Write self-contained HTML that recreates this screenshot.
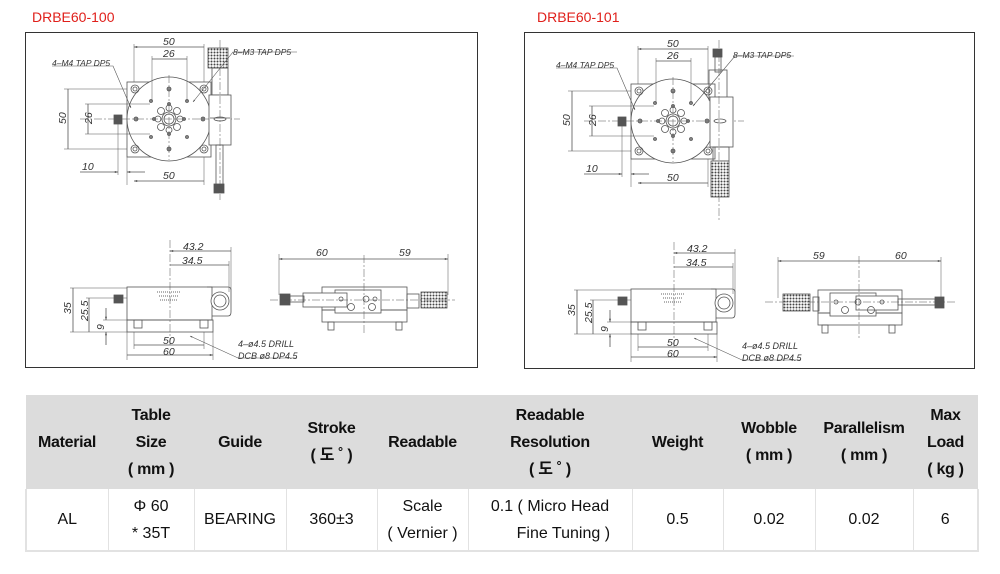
<!DOCTYPE html>
<html><head><meta charset="utf-8"><style>
body{margin:0;width:1000px;height:574px;background:#fff;position:relative;overflow:hidden;font-family:"Liberation Sans","Noto Sans CJK KR",sans-serif}
svg{position:absolute;left:0;top:0}
table{position:absolute;left:25px;top:395px;border-collapse:collapse;table-layout:fixed;width:952px}
td{text-align:center;vertical-align:middle;padding:0;font-size:16px;line-height:27px;color:#111}
tr.h td{background:#dcdcdc;font-weight:bold;height:94px;letter-spacing:-0.3px}
tr.b td{height:61px;border-left:1px solid #e2e2e2;border-bottom:2px solid #e2e2e2}
tr.b td:first-child{border-left:2px solid #e2e2e2}
tr.b td:last-child{border-right:2px solid #e2e2e2}
</style></head><body>
<svg width="1000" height="390" viewBox="0 0 1000 390" font-family="Liberation Sans, sans-serif">
<defs>
<marker id="a" viewBox="0 0 10 10" refX="10" refY="5" markerWidth="6" markerHeight="4" orient="auto-start-reverse"><path d="M0,2L10,5L0,8z" fill="#444"/></marker>
<pattern id="kn" width="3" height="3" patternUnits="userSpaceOnUse"><rect width="3" height="3" fill="#fff"/><circle cx="1.5" cy="1.5" r="1" fill="#444"/></pattern>
<g id="common" stroke="#555" stroke-width="0.8" fill="none">
 <!-- plate -->
 <rect x="127" y="82" width="84" height="75"/>
 <circle cx="169" cy="119" r="42" fill="#fff"/>
 <g>
  <circle cx="135" cy="89" r="4"/><circle cx="135" cy="89" r="2"/>
  <circle cx="204" cy="89" r="4"/><circle cx="204" cy="89" r="2"/>
  <circle cx="135" cy="149" r="4"/><circle cx="135" cy="149" r="2"/>
  <circle cx="204" cy="149" r="4"/><circle cx="204" cy="149" r="2"/>
 </g>
 <g fill="#888">
  <circle cx="169" cy="89" r="2"/><circle cx="169" cy="149" r="2"/><circle cx="136" cy="119" r="2"/><circle cx="203" cy="119" r="2"/>
  <circle cx="151" cy="101" r="1.5"/><circle cx="187" cy="101" r="1.5"/><circle cx="151" cy="137" r="1.5"/><circle cx="187" cy="137" r="1.5"/>
  <circle cx="169" cy="104" r="1.5"/><circle cx="169" cy="134" r="1.5"/><circle cx="154" cy="119" r="1.5"/><circle cx="184" cy="119" r="1.5"/>
 </g>
 <circle cx="169" cy="119" r="7"/><circle cx="169" cy="119" r="5"/>
 <circle cx="161" cy="111" r="3.5"/><circle cx="177" cy="111" r="3.5"/><circle cx="161" cy="127" r="3.5"/><circle cx="177" cy="127" r="3.5"/>
 <circle cx="158" cy="119" r="3"/><circle cx="180" cy="119" r="3"/><circle cx="169" cy="108" r="3"/><circle cx="169" cy="130" r="3"/>
 <path d="M80 119H240M169 75V160" stroke-dasharray="8 2 2 2" stroke-width="0.5"/>
 <rect x="114" y="115" width="8" height="9" fill="#555"/>
 <!-- top view dims -->
 <path d="M134 82V44M204 82V44M152 101V56M187 101V56M127 89H64M127 149H64M150 104H85M150 134H85M118 124V175M127 157V185M204 157V185" stroke-width="0.5"/>
 <path d="M134 47H204M152 59H187M68 89V149M88 104V134M204 181H134" marker-start="url(#a)" marker-end="url(#a)"/>
 <path d="M80 172H118" marker-end="url(#a)"/><path d="M145 172H127" marker-end="url(#a)"/>
 <path d="M52 66H113L131 108" stroke-width="0.6" marker-end="url(#a)"/>
 <!-- side view -->
 <rect x="127" y="287" width="85" height="33"/>
 <rect x="127" y="320" width="86" height="12"/>
 <path d="M207 287H228Q231 287 231 290V312Q231 316 228 316H212" />
 <circle cx="220" cy="301" r="9" fill="#fff"/><circle cx="220" cy="301" r="6"/>
 <rect x="114" y="295" width="9" height="8" fill="#555"/>
 <rect x="134" y="320" width="8" height="8"/><rect x="200" y="320" width="8" height="8"/>
 <path d="M157 292h24M159 296h20M160 300h18" stroke="#333" stroke-dasharray="1 1"/>
 <path d="M170 240V345" stroke-dasharray="8 2 2 2" stroke-width="0.5"/>
 <path d="M231 247V290M229 261V292M127 288H70M127 298H86M127 320H103M127 332H70M127 332V360M213 332V360M134 332V349M204 332V349" stroke-width="0.5"/>
 <path d="M170 251H231M170 265H229M73 288V332M89 298V332M134 345H204M127 355H213" marker-start="url(#a)" marker-end="url(#a)"/>
 <path d="M106 308V320" marker-end="url(#a)"/><path d="M106 345V332" marker-end="url(#a)"/>
 <path d="M297 358H238L190 336" stroke-width="0.6" marker-end="url(#a)"/>
</g>
<g id="commonText" font-size="10.5" font-style="italic" fill="#333">
 <text x="163" y="45">50</text><text x="163" y="57">26</text>
 <text x="90" y="94" transform="rotate(-90 62 119)" x2="0"></text>
 <text x="57" y="123" transform="rotate(-90 62 119)">50</text>
 <text x="83" y="123" transform="rotate(-90 88 119)">26</text>
 <text x="82" y="170">10</text><text x="163" y="179">50</text>
 <text x="52" y="66" font-size="8.5">4–M4 TAP DP5</text>
 <text x="183" y="250">43.2</text><text x="182" y="264">34.5</text>
 <text x="63" y="314" transform="rotate(-90 67 310)">35</text>
 <text x="78" y="319" transform="rotate(-90 84 315)">25.5</text>
 <text x="98" y="330" transform="rotate(-90 101 327)">9</text>
 <text x="163" y="344">50</text><text x="163" y="355">60</text>
 <text x="238" y="347" font-size="9">4–ø4.5 DRILL</text>
 <text x="238" y="359" font-size="9">DCB ø8 DP4.5</text>
</g>
</defs>

<text x="32" y="22" font-size="14" fill="#e0201b">DRBE60-100</text>
<text x="537" y="22" font-size="14" fill="#e0201b">DRBE60-101</text>
<rect x="25.5" y="32.5" width="452" height="335" fill="none" stroke="#333" stroke-width="1"/>
<rect x="524.5" y="32.5" width="450" height="336" fill="none" stroke="#333" stroke-width="1"/>

<!-- LEFT -->
<use href="#common"/><use href="#commonText"/>
<g stroke="#555" stroke-width="0.8" fill="none">
 <rect x="208" y="48" width="20" height="20" fill="url(#kn)"/>
 <rect x="212" y="68" width="16" height="27"/>
 <rect x="209" y="95" width="22" height="50" fill="#fff"/>
 <path d="M210 118h20" /><ellipse cx="220" cy="119" rx="6" ry="2"/>
 <rect x="216" y="145" width="7" height="40"/>
 <rect x="214" y="184" width="10" height="9" fill="#555"/>
 <path d="M220 40V200" stroke-dasharray="8 2 2 2" stroke-width="0.5"/>
 <path d="M297 52H233L193 102" stroke-width="0.6" marker-end="url(#a)"/>
 <!-- front view -->
 <rect x="322" y="287" width="85" height="23"/>
 <rect x="322" y="310" width="85" height="12"/>
 <rect x="335" y="290" width="46" height="23" fill="#fff"/>
 <rect x="303" y="293" width="44" height="14" fill="#fff"/>
 <rect x="280" y="294" width="10" height="11" fill="#555"/>
 <rect x="290" y="296" width="14" height="6"/>
 <rect x="407" y="294" width="12" height="14"/>
 <rect x="421" y="292" width="26" height="16" fill="url(#kn)"/>
 <circle cx="341" cy="299" r="2"/><circle cx="366" cy="299" r="3"/><circle cx="375" cy="299" r="2"/>
 <circle cx="351" cy="307" r="3.5"/><circle cx="372" cy="307" r="3.5"/>
 <rect x="328" y="322" width="6" height="8"/><rect x="396" y="322" width="6" height="8"/>
 <path d="M364 255V335M270 300H455" stroke-dasharray="8 2 2 2" stroke-width="0.5"/>
 <path d="M279 254V295M448 254V295" stroke-width="0.5"/>
 <path d="M279 259H363M363 259H448" marker-start="url(#a)" marker-end="url(#a)"/>
</g>
<g font-size="10.5" font-style="italic" fill="#333">
 <text x="233" y="55" font-size="8.5">8–M3 TAP DP5</text>
 <text x="316" y="256">60</text><text x="399" y="256">59</text>
</g>

<!-- RIGHT -->
<g transform="translate(504,2)"><use href="#common"/><use href="#commonText"/></g>
<g stroke="#555" stroke-width="0.8" fill="none">
 <rect x="713" y="49" width="9" height="8" fill="#555"/>
 <rect x="715" y="57" width="6" height="15"/>
 <rect x="709" y="70" width="18" height="30"/>
 <rect x="710" y="97" width="23" height="50" fill="#fff"/>
 <ellipse cx="720" cy="121" rx="6" ry="2"/>
 <rect x="713" y="147" width="16" height="14"/>
 <rect x="711" y="161" width="18" height="36" fill="url(#kn)"/>
 <path d="M719 40V222" stroke-dasharray="8 2 2 2" stroke-width="0.5"/>
 <path d="M794 56H735L693 106" stroke-width="0.6" marker-end="url(#a)"/>
 <!-- front view mirrored -->
 <rect x="818" y="290" width="84" height="23"/>
 <rect x="818" y="313" width="84" height="12"/>
 <rect x="830" y="293" width="46" height="23" fill="#fff"/>
 <rect x="856" y="296" width="42" height="14" fill="#fff"/>
 <rect x="935" y="297" width="9" height="11" fill="#555"/>
 <rect x="898" y="299" width="37" height="6"/>
 <rect x="813" y="297" width="6" height="14"/>
 <rect x="783" y="294" width="27" height="17" fill="url(#kn)"/>
 <circle cx="836" cy="302" r="2"/><circle cx="858" cy="302" r="3"/><circle cx="882" cy="302" r="2"/>
 <circle cx="845" cy="310" r="3.5"/><circle cx="871" cy="310" r="3.5"/>
 <rect x="822" y="325" width="6" height="8"/><rect x="889" y="325" width="6" height="8"/>
 <path d="M859 256V340M765 302H955" stroke-dasharray="8 2 2 2" stroke-width="0.5"/>
 <path d="M778 257V298M941 257V298" stroke-width="0.5"/>
 <path d="M778 261H859M859 261H941" marker-start="url(#a)" marker-end="url(#a)"/>
</g>
<g font-size="10.5" font-style="italic" fill="#333">
 <text x="733" y="58" font-size="8.5">8–M3 TAP DP5</text>
 <text x="813" y="259">59</text><text x="895" y="259">60</text>
</g>
</svg>

<table>
<colgroup><col style="width:82px"><col style="width:86px"><col style="width:92px"><col style="width:91px"><col style="width:91px"><col style="width:164px"><col style="width:91px"><col style="width:92px"><col style="width:98px"><col style="width:65px"></colgroup>
<tr class="h"><td>Material</td><td>Table<br>Size<br>( mm )</td><td>Guide</td><td>Stroke<br>( 도 ˚ )</td><td>Readable</td><td>Readable<br>Resolution<br>( 도 ˚ )</td><td>Weight</td><td>Wobble<br>( mm )</td><td>Parallelism<br>( mm )</td><td>Max<br>Load<br>( kg )</td></tr>
<tr class="b"><td>AL</td><td>Φ 60<br>* 35T</td><td>BEARING</td><td>360±3</td><td>Scale<br>( Vernier )</td><td>0.1 ( Micro Head<br>&nbsp;&nbsp;&nbsp;&nbsp;&nbsp;&nbsp;Fine Tuning )</td><td>0.5</td><td>0.02</td><td>0.02</td><td>6</td></tr>
</table>
</body></html>
